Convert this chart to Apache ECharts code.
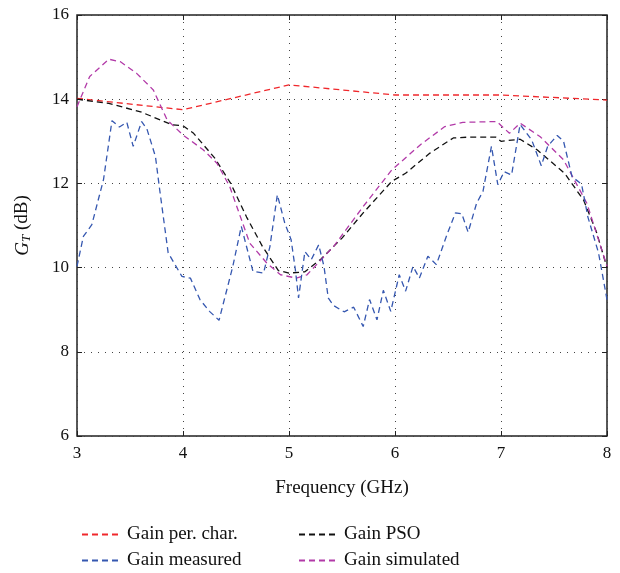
<!DOCTYPE html>
<html>
<head>
<meta charset="utf-8">
<script src="https://cdn.jsdelivr.net/npm/echarts@6/dist/echarts.min.js"></script>
<style>
  html, body { margin: 0; padding: 0; background: #fff; }
  #chart { width: 620px; height: 573px; }
</style>
</head>
<body>
<div id="chart"></div>
<script>
// gain per. char.
var charX = [3, 4, 5, 6, 7, 8];
var charY = [14.02, 13.75, 14.34, 14.1, 14.1, 13.98];

// gain PSO
var psoX = [3.0, 3.3, 3.6, 3.9, 4.0, 4.1, 4.3, 4.45, 4.6, 4.75, 4.9, 5.0, 5.15, 5.3, 5.5, 5.7, 5.97, 6.1, 6.33, 6.55, 6.7, 6.95, 7.0, 7.18, 7.34, 7.6, 7.78, 7.9, 8.0];
var psoY = [14.0, 13.9, 13.7, 13.39, 13.37, 13.19, 12.6, 12.0, 11.2, 10.5, 9.93, 9.87, 9.9, 10.2, 10.7, 11.3, 12.05, 12.24, 12.72, 13.08, 13.1, 13.1, 13.0, 13.05, 12.8, 12.24, 11.6, 10.85, 10.0];

// gain simulated
var simX = [3.0, 3.12, 3.3, 3.41, 3.56, 3.72, 3.85, 4.0, 4.19, 4.32, 4.44, 4.63, 4.79, 4.92, 5.07, 5.17, 5.42, 5.7, 5.97, 6.24, 6.47, 6.64, 6.96, 7.08, 7.18, 7.37, 7.59, 7.81, 8.0];
var simY = [13.82, 14.54, 14.95, 14.89, 14.62, 14.22, 13.51, 13.15, 12.8, 12.48, 11.93, 10.58, 10.11, 9.83, 9.75, 9.83, 10.5, 11.45, 12.32, 12.92, 13.35, 13.45, 13.47, 13.19, 13.43, 13.11, 12.56, 11.53, 10.03];

// gain measured
var measX = [3.0, 3.06, 3.14, 3.25, 3.33, 3.4, 3.47, 3.53, 3.61, 3.66, 3.74, 3.78, 3.86, 3.99, 4.07, 4.16, 4.25, 4.34, 4.47, 4.55, 4.66, 4.76, 4.82, 4.89, 4.96, 5.02, 5.06, 5.09, 5.15, 5.21, 5.28, 5.33, 5.37, 5.42, 5.52, 5.61, 5.7, 5.76, 5.83, 5.89, 5.96, 6.04, 6.1, 6.17, 6.23, 6.31, 6.39, 6.49, 6.57, 6.63, 6.69, 6.77, 6.83, 6.91, 6.97, 7.03, 7.1, 7.18, 7.29, 7.38, 7.44, 7.53, 7.59, 7.67, 7.76, 7.82, 7.92, 8.0];
var measY = [10.03, 10.74, 11.02, 12.09, 13.49, 13.34, 13.45, 12.88, 13.47, 13.29, 12.64, 11.85, 10.35, 9.79, 9.75, 9.24, 8.96, 8.75, 10.03, 10.98, 9.91, 9.87, 10.5, 11.73, 11.06, 10.66, 9.95, 9.28, 10.38, 10.19, 10.54, 10.03, 9.28, 9.1, 8.95, 9.06, 8.6, 9.24, 8.76, 9.46, 8.96, 9.83, 9.44, 10.03, 9.75, 10.27, 10.07, 10.78, 11.3, 11.28, 10.84, 11.53, 11.81, 12.88, 11.97, 12.28, 12.2, 13.4, 13.03, 12.42, 12.88, 13.14, 13.0, 12.16, 11.98, 11.2, 10.35, 9.24];

function pairs(xs, ys) {
    var out = [];
    xs.forEach(function (x, i) { out.push([x, ys[i]]); });
    return out;
}

var font = 'Liberation Serif';
var dotted = { color: '#444', width: 1, type: [1, 6] };

function mkLine(name, xs, ys, color) {
    return {
        name: name,
        type: 'line',
        data: pairs(xs, ys),
        symbol: 'none',
        smooth: false,
        lineStyle: { color: color, width: 1.3, type: [6, 4] },
        itemStyle: { color: color }
    };
}

// one legend per item so the 2x2 block sits where the figure has it
function mkLegend(name, left, top) {
    return {
        data: [name], left: left, top: top,
        itemWidth: 36, itemHeight: 12,
        itemStyle: { opacity: 0 },
        textStyle: { fontFamily: font, fontSize: 19, color: '#111', padding: [0, 0, 0, 4] }
    };
}

var chart = echarts.init(document.getElementById('chart'));
chart.setOption({
    animation: false,
    backgroundColor: '#fff',
    grid: {
        left: 77, right: 13, top: 15, bottom: 137,
        show: true, borderColor: '#222', borderWidth: 1.5
    },
    xAxis: [
        {
            type: 'value', min: 3, max: 8, interval: 1,
            name: 'Frequency (GHz)', nameLocation: 'middle', nameGap: 43,
            nameTextStyle: { fontFamily: font, fontSize: 19, color: '#111' },
            axisLine: { show: false },
            axisTick: { inside: true, length: 5, lineStyle: { color: '#222' } },
            axisLabel: { fontFamily: font, fontSize: 17, color: '#111', margin: 9 },
            splitLine: { show: true, lineStyle: dotted }
        },
        {
            type: 'value', min: 3, max: 8, interval: 1, position: 'top',
            axisLine: { show: false },
            axisTick: { inside: true, length: 5, lineStyle: { color: '#222' } },
            axisLabel: { show: false },
            splitLine: { show: false }
        }
    ],
    yAxis: [
        {
            type: 'value', min: 6, max: 16, interval: 2,
            name: '{i|G}{s|T} (dB)', nameLocation: 'middle', nameGap: 44, nameRotate: 90,
            nameTextStyle: {
                fontFamily: font, fontSize: 19, color: '#111',
                rich: {
                    i: { fontFamily: font, fontSize: 19, fontStyle: 'italic', color: '#111' },
                    s: { fontFamily: font, fontSize: 13, fontStyle: 'italic', color: '#111', verticalAlign: 'bottom', padding: [8, 0, 0, 0] }
                }
            },
            axisLine: { show: false },
            axisTick: { inside: true, length: 5, lineStyle: { color: '#222' } },
            axisLabel: { fontFamily: font, fontSize: 17, color: '#111', margin: 8 },
            splitLine: { show: true, lineStyle: dotted }
        },
        {
            type: 'value', min: 6, max: 16, interval: 2, position: 'right',
            axisLine: { show: false },
            axisTick: { inside: true, length: 5, lineStyle: { color: '#222' } },
            axisLabel: { show: false },
            splitLine: { show: false }
        }
    ],
    legend: [
        mkLegend('Gain per. char.', 76, 520),
        mkLegend('Gain measured', 76, 546),
        mkLegend('Gain PSO', 293, 520),
        mkLegend('Gain simulated', 293, 546)
    ],
    series: [
        mkLine('Gain per. char.', charX, charY, '#f0282c'),
        mkLine('Gain PSO', psoX, psoY, '#111111'),
        mkLine('Gain simulated', simX, simY, '#b23aa8'),
        mkLine('Gain measured', measX, measY, '#3557b0')
    ]
});
</script>
</body>
</html>
